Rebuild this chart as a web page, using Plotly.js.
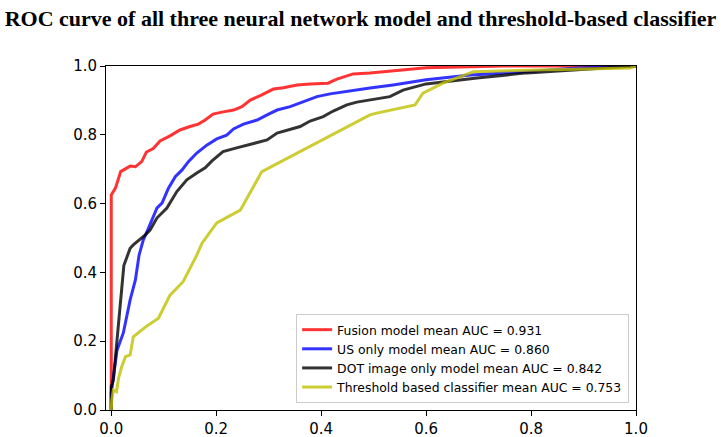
<!DOCTYPE html>
<html>
<head>
<meta charset="utf-8">
<script src="https://cdn.plot.ly/plotly-3.0.1.min.js"></script>
<style>
  body { margin: 0; background: #fff; }
  #chart { width: 721px; height: 437px; }
</style>
</head>
<body>
<div id="chart"></div>
<script>
// ROC points (FPR, TPR)
const fusionFpr = [0, 0, 0.008, 0.018, 0.036, 0.046, 0.058, 0.067, 0.08, 0.093, 0.112, 0.131, 0.15, 0.166, 0.179, 0.194, 0.211, 0.233, 0.249, 0.265, 0.284, 0.309, 0.328, 0.354, 0.379, 0.413, 0.43, 0.461, 0.493, 0.6, 0.75, 1.0];
const fusionTpr = [0, 0.625, 0.645, 0.693, 0.709, 0.707, 0.722, 0.75, 0.76, 0.782, 0.797, 0.814, 0.824, 0.831, 0.843, 0.86, 0.866, 0.872, 0.882, 0.901, 0.914, 0.933, 0.937, 0.945, 0.948, 0.95, 0.962, 0.977, 0.98, 0.995, 1.0, 1.0];

const usFpr = [0, 0, 0.011, 0.023, 0.036, 0.046, 0.053, 0.061, 0.071, 0.087, 0.097, 0.109, 0.122, 0.135, 0.147, 0.163, 0.182, 0.201, 0.22, 0.233, 0.252, 0.278, 0.297, 0.316, 0.341, 0.366, 0.392, 0.417, 0.442, 0.468, 0.493, 0.537, 0.6, 0.684, 0.792, 0.887, 1.0];
const usTpr = [0, 0.05, 0.174, 0.224, 0.32, 0.378, 0.45, 0.494, 0.529, 0.587, 0.602, 0.645, 0.678, 0.698, 0.722, 0.747, 0.77, 0.788, 0.799, 0.817, 0.831, 0.843, 0.858, 0.872, 0.882, 0.896, 0.911, 0.919, 0.925, 0.93, 0.936, 0.945, 0.96, 0.974, 0.983, 0.994, 1.0];

const dotFpr = [0, 0, 0.004, 0.024, 0.036, 0.042, 0.065, 0.074, 0.087, 0.106, 0.125, 0.144, 0.163, 0.179, 0.192, 0.213, 0.239, 0.265, 0.297, 0.316, 0.341, 0.36, 0.379, 0.404, 0.423, 0.449, 0.468, 0.493, 0.531, 0.556, 0.6, 0.697, 0.792, 1.0];
const dotTpr = [0, 0.068, 0.087, 0.42, 0.47, 0.48, 0.509, 0.523, 0.558, 0.587, 0.635, 0.669, 0.689, 0.704, 0.724, 0.751, 0.762, 0.772, 0.785, 0.805, 0.817, 0.824, 0.84, 0.853, 0.869, 0.887, 0.895, 0.901, 0.911, 0.93, 0.948, 0.965, 0.98, 1.0];

const thrFpr = [0, 0.001, 0.004, 0.01, 0.014, 0.02, 0.027, 0.036, 0.042, 0.065, 0.09, 0.112, 0.137, 0.163, 0.173, 0.201, 0.246, 0.287, 0.493, 0.506, 0.579, 0.594, 0.632, 0.69, 0.792, 0.989, 1.0];
const thrTpr = [0, 0.029, 0.058, 0.053, 0.093, 0.126, 0.155, 0.16, 0.213, 0.241, 0.267, 0.334, 0.373, 0.45, 0.485, 0.544, 0.581, 0.693, 0.858, 0.863, 0.887, 0.921, 0.95, 0.983, 0.988, 0.994, 1.0];

const names = [
  'Fusion model mean AUC = 0.931',
  'US only model mean AUC = 0.860',
  'DOT image only model mean AUC = 0.842',
  'Threshold based classifier mean AUC = 0.753'
];
const colors = ['rgba(255,0,0,0.8)', 'rgba(0,0,255,0.8)', 'rgba(0,0,0,0.8)', 'rgba(191,191,0,0.8)'];

const xs = [fusionFpr, usFpr, dotFpr, thrFpr];
const ys = [fusionTpr, usTpr, dotTpr, thrTpr];

const data = xs.map((x, i) => ({
  type: 'scatter', mode: 'lines',
  x: x, y: ys[i], name: names[i],
  line: { color: colors[i], width: 3 },
  cliponaxis: false
}));

const axisStyle = {
  showline: true, mirror: true, linecolor: '#000', linewidth: 1,
  ticks: 'outside', ticklen: 5, tickcolor: '#000', tickwidth: 1,
  showgrid: false, zeroline: false,
  tickfont: { family: 'DejaVu Sans', size: 15, color: '#000' }
};

const layout = {
  width: 721, height: 437,
  margin: { l: 106, r: 85, t: 66, b: 27 },
  paper_bgcolor: '#fff', plot_bgcolor: '#fff',
  title: {
    text: '<b>ROC curve of all three neural network model and threshold-based classifier</b>',
    font: { family: 'Liberation Serif', size: 22, color: '#000' },
    x: 0.5, xanchor: 'center', y: 0.958, yanchor: 'middle'
  },
  xaxis: Object.assign({}, axisStyle, {
    range: [-0.01, 1.0], tickvals: [0, 0.2, 0.4, 0.6, 0.8, 1.0], ticktext: ['0.0', '0.2', '0.4', '0.6', '0.8', '1.0']
  }),
  yaxis: Object.assign({}, axisStyle, {
    range: [0, 1.0], tickvals: [0, 0.2, 0.4, 0.6, 0.8, 1.0], ticktext: ['0.0', '0.2', '0.4', '0.6', '0.8', '1.0']
  }),
  legend: {
    x: 0.987, y: 0.02, xanchor: 'right', yanchor: 'bottom',
    bgcolor: 'rgba(255,255,255,0.8)', bordercolor: '#cccccc', borderwidth: 1,
    font: { family: 'DejaVu Sans', size: 12.4, color: '#000' },
    itemwidth: 30, tracegroupgap: 0
  },
  showlegend: true
};

Plotly.newPlot('chart', data, layout, { staticPlot: true });
</script>
</body>
</html>
